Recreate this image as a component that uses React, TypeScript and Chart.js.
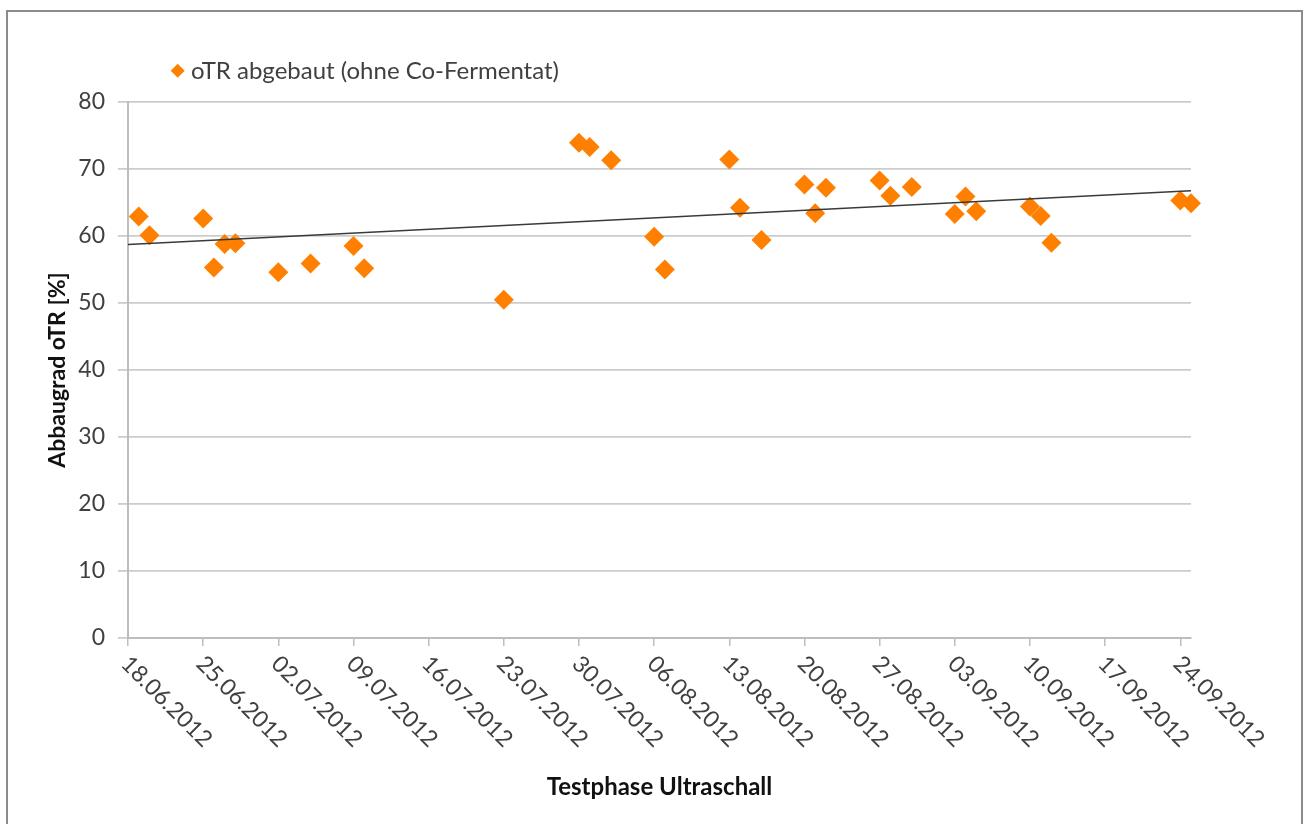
import React, { useEffect, useRef } from 'react';
import { Chart, registerables } from 'chart.js';

Chart.register(...registerables);

// ---------- data ----------
const startDate = '18.06.2012';
const axisEndDate = '25.09.2012';
const tickLabels = [
  '18.06.2012', '25.06.2012', '02.07.2012', '09.07.2012', '16.07.2012',
  '23.07.2012', '30.07.2012', '06.08.2012', '13.08.2012', '20.08.2012',
  '27.08.2012', '03.09.2012', '10.09.2012', '17.09.2012', '24.09.2012',
];
const sampleDates = [
  '19.06.2012', '20.06.2012', '25.06.2012', '26.06.2012', '27.06.2012', '28.06.2012',
  '02.07.2012', '05.07.2012', '09.07.2012', '10.07.2012', '23.07.2012',
  '30.07.2012', '31.07.2012', '02.08.2012', '06.08.2012', '07.08.2012',
  '13.08.2012', '14.08.2012', '16.08.2012', '20.08.2012', '21.08.2012', '22.08.2012',
  '27.08.2012', '28.08.2012', '30.08.2012', '03.09.2012', '04.09.2012', '05.09.2012',
  '10.09.2012', '11.09.2012', '12.09.2012', '24.09.2012', '25.09.2012',
];
const degradation = [
  62.9, 60.1, 62.6, 55.3, 58.8, 58.9,
  54.6, 55.9, 58.5, 55.2, 50.5,
  73.9, 73.3, 71.3, 59.9, 55.0,
  71.4, 64.2, 59.4, 67.7, 63.4, 67.2,
  68.3, 66.0, 67.3, 63.3, 65.9, 63.7,
  64.4, 63.0, 59.0, 65.3, 64.9,
];
const seriesLabel = 'oTR abgebaut (ohne Co-Fermentat)';
const yTitle = 'Abbaugrad oTR [%]';
const xTitle = 'Testphase Ultraschall';
const yMin = 0;
const yMax = 80;
const yStep = 10;

// ---------- helpers ----------
function parseDe(s: string): number {
  const [d, m, y] = s.split('.').map(Number);
  return Date.UTC(y, m - 1, d);
}
const t0 = parseDe(startDate);
function dayIndex(s: string): number {
  return Math.round((parseDe(s) - t0) / 86400000);
}

const FONT = 'Lato, "Open Sans", sans-serif';
const ORANGE = '#ff8000';

export default function App() {
  const ref = useRef<HTMLCanvasElement | null>(null);

  useEffect(() => {
    if (!ref.current) return;
    const pts = sampleDates.map((d, i) => ({ x: dayIndex(d), y: degradation[i] }));
    const xMin = 0;
    const xMax = dayIndex(axisEndDate);
    // least-squares linear trend
    const n = pts.length;
    const mx = pts.reduce((a, p) => a + p.x, 0) / n;
    const my = pts.reduce((a, p) => a + p.y, 0) / n;
    let sxy = 0;
    let sxx = 0;
    pts.forEach((p) => {
      sxy += (p.x - mx) * (p.y - my);
      sxx += (p.x - mx) * (p.x - mx);
    });
    const slope = sxy / sxx;
    const icpt = my - slope * mx;
    const trend = [
      { x: xMin, y: icpt + slope * xMin },
      { x: xMax, y: icpt + slope * xMax },
    ];

    const customDraw = {
      id: 'customDraw',
      afterDraw(chart: any) {
        const ctx = chart.ctx as CanvasRenderingContext2D;
        const xs = chart.scales.x;
        ctx.save();
        ctx.font = `23px ${FONT}`;
        ctx.fillStyle = '#404040';
        ctx.textAlign = 'left';
        ctx.textBaseline = 'middle';
        xs.ticks.forEach((t: any, i: number) => {
          const px = xs.getPixelForValue(t.value);
          ctx.save();
          ctx.translate(px - 3, xs.top + 22);
          ctx.rotate(Math.PI / 4);
          ctx.fillText(tickLabels[i], 0, 0);
          ctx.restore();
        });
        // legend
        const lx = 177.7;
        const ly = 70.7;
        const r = 7;
        ctx.fillStyle = ORANGE;
        ctx.beginPath();
        ctx.moveTo(lx, ly - r);
        ctx.lineTo(lx + r, ly);
        ctx.lineTo(lx, ly + r);
        ctx.lineTo(lx - r, ly);
        ctx.closePath();
        ctx.fill();
        ctx.fillStyle = '#404040';
        ctx.font = `24px ${FONT}`;
        ctx.fillText(seriesLabel, 191, ly + 1);
        ctx.restore();
      },
    };

    const chart = new Chart(ref.current, {
      type: 'scatter',
      data: {
        datasets: [
          {
            type: 'line',
            label: 'Trend',
            data: trend,
            borderColor: '#3a3a3a',
            borderWidth: 1.5,
            pointRadius: 0,
            fill: false,
            order: 0,
          } as any,
          {
            label: seriesLabel,
            data: pts,
            pointStyle: 'rectRot',
            pointRadius: 10,
            pointHoverRadius: 10,
            backgroundColor: ORANGE,
            borderColor: ORANGE,
            borderWidth: 0,
            clip: false,
            order: 1,
          } as any,
        ],
      },
      options: {
        responsive: false,
        animation: false,
        layout: { padding: { left: 0, top: 102, right: 114, bottom: 0 } },
        plugins: {
          legend: { display: false },
          tooltip: { enabled: false },
        },
        scales: {
          x: {
            type: 'linear',
            min: xMin,
            max: xMax,
            afterBuildTicks: (s: any) => {
              s.ticks = tickLabels.map((l) => ({ value: dayIndex(l) }));
            },
            afterFit: (s: any) => {
              s.height = 824 - 638;
            },
            ticks: { display: false },
            grid: {
              display: true,
              drawOnChartArea: false,
              drawTicks: true,
              tickLength: 8,
              color: '#bdbdbd',
              lineWidth: 1.5,
            },
            border: { display: true, color: '#bdbdbd', width: 2 },
            title: {
              display: true,
              text: xTitle,
              color: '#111',
              font: { family: FONT, size: 24, weight: 'bold' },
              padding: { top: 0, bottom: 22.6 },
            },
          },
          y: {
            min: yMin,
            max: yMax,
            afterFit: (s: any) => {
              s.width = 128;
            },
            ticks: {
              stepSize: yStep,
              color: '#404040',
              padding: 13,
              font: { family: FONT, size: 23 },
            },
            grid: {
              color: '#cccccc',
              lineWidth: 1.8,
              drawTicks: true,
              tickLength: 10,
            },
            border: { display: true, color: '#bdbdbd', width: 2 },
            title: {
              display: true,
              text: yTitle,
              color: '#111',
              font: { family: FONT, size: 23, weight: 'bold' },
              padding: { top: 43.7, bottom: 0 },
            },
          },
        },
      },
      plugins: [customDraw],
    });
    return () => chart.destroy();
  }, []);

  return (
    <div style={{ position: 'fixed', left: 0, top: 0, width: 1305, height: 824, background: '#fff', overflow: 'hidden' }}>
      <div
        style={{
          position: 'absolute',
          left: 6,
          top: 10,
          width: 1297,
          height: 840,
          boxSizing: 'border-box',
          border: '2px solid #8c8c8c',
        }}
      />
      <canvas ref={ref} width={1305} height={824} style={{ position: 'absolute', left: 0, top: 0, width: 1305, height: 824 }} />
    </div>
  );
}
